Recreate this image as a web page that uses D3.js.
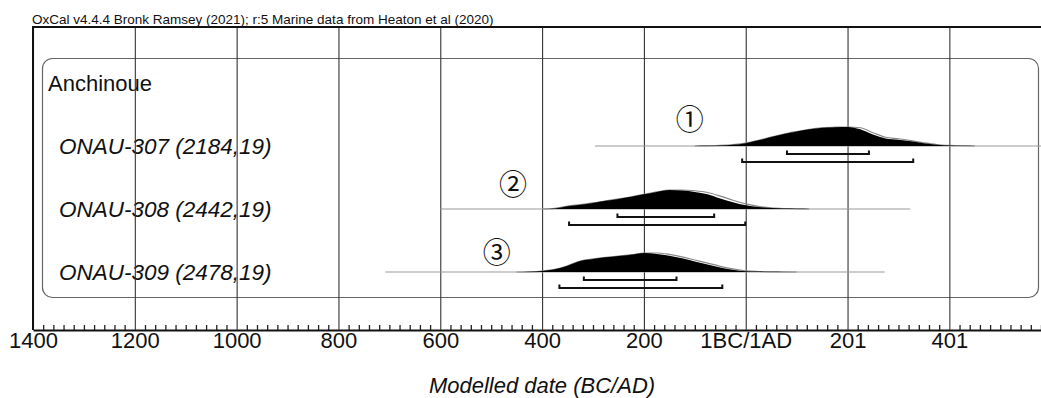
<!DOCTYPE html>
<html lang="en">
<head>
  <meta charset="UTF-8">
  <title>OxCal plot - Anchinoue</title>
  <style>
    html, body {
      margin: 0;
      background-color: #ffffff;
    }
    svg text {
      font-family: "Liberation Sans", Arial, Helvetica, sans-serif;
      fill: #111;
    }
  </style>
</head>
<body>
  <svg id="chart" width="1041" height="398"></svg>

  <script src="https://cdnjs.cloudflare.com/ajax/libs/d3/7.8.5/d3.min.js"></script>
  <script>
    // --- data (years: negative = BC) ---
    const groupName = 'Anchinoue';
    const sampleNames = ['ONAU-307 (2184,19)', 'ONAU-308 (2442,19)', 'ONAU-309 (2478,19)'];
    const markers = ['①', '②', '③'];
    const markerYears = [-110, -457, -489];

    const majorTicks = [-1400, -1200, -1000, -800, -600, -400, -200, 0, 200, 400];

    const years307 = [-100, -75, -50, -25, 0, 25, 50, 75, 100, 125, 150, 175, 200, 225, 250, 275, 300, 325, 350, 375, 400, 425, 450];
    const post307 = [0, 0.01, 0.03, 0.07, 0.15, 0.3, 0.47, 0.63, 0.76, 0.88, 0.96, 0.99, 1.0, 0.88, 0.6, 0.4, 0.33, 0.25, 0.15, 0.07, 0.03, 0.01, 0];
    const prior307 = [0, 0.01, 0.03, 0.07, 0.15, 0.3, 0.47, 0.63, 0.76, 0.88, 0.96, 0.99, 1.0, 0.96, 0.7, 0.46, 0.38, 0.28, 0.17, 0.08, 0.035, 0.012, 0];

    const years308 = [-400, -375, -350, -325, -300, -275, -250, -225, -200, -175, -150, -125, -100, -75, -50, -25, 0, 25, 50, 75, 100, 125];
    const post308 = [0, 0.03, 0.15, 0.23, 0.32, 0.43, 0.53, 0.64, 0.77, 0.9, 1.0, 0.97, 0.9, 0.78, 0.55, 0.36, 0.2, 0.11, 0.05, 0.02, 0.01, 0];
    const prior308 = [0, 0.03, 0.15, 0.23, 0.32, 0.43, 0.53, 0.64, 0.77, 0.9, 1.0, 1.0, 0.96, 0.87, 0.68, 0.46, 0.27, 0.14, 0.06, 0.025, 0.01, 0];

    const years309 = [-450, -425, -400, -375, -350, -325, -300, -275, -250, -225, -200, -175, -150, -125, -100, -75, -50, -25, 0, 25, 50, 75, 100];
    const post309 = [0, 0.01, 0.05, 0.14, 0.33, 0.58, 0.69, 0.77, 0.84, 0.91, 1.0, 0.95, 0.85, 0.72, 0.55, 0.4, 0.24, 0.12, 0.04, 0.02, 0.01, 0.005, 0];
    const prior309 = [0, 0.01, 0.05, 0.14, 0.33, 0.58, 0.69, 0.77, 0.84, 0.91, 1.0, 1.0, 0.93, 0.8, 0.63, 0.47, 0.3, 0.16, 0.06, 0.025, 0.01, 0.005, 0];

    const sampleYears = [years307, years308, years309];
    const posteriors = [post307, post308, post309];
    const priors = [prior307, prior308, prior309];

    const range68 = [[81, 242], [-252, -62], [-318, -136]];
    const range95 = [[-7, 329], [-347, -1], [-366, -46]];
    const lineSpans = [[-296, 580], [-600, 323], [-708, 273]];

    // --- layout ---
    const width = 1041;
    const frameLeft = 33;
    const frameTop = 27;
    const axisY = 330;
    const distHeight = 19;

    const svg = d3.select('#chart');

    const x = d3.scaleLinear()
      .domain([-1400, 580])
      .range([frameLeft, width]);

    const y = d3.scalePoint()
      .domain([groupName].concat(sampleNames))
      .range([83, 272]);

    const h = d3.scaleLinear()
      .domain([0, 1])
      .range([0, distHeight]);

    const fmtYear = v => v < 0 ? String(-v) : (v === 0 ? '1BC/1AD' : String(v + 1));

    // header
    svg.append('text')
      .attr('x', 32)
      .attr('y', 24)
      .style('font-size', '13.5px')
      .text('OxCal v4.4.4 Bronk Ramsey (2021); r:5 Marine data from Heaton et al (2020)');

    // group box
    svg.append('rect')
      .attr('x', 42.5)
      .attr('y', 58.5)
      .attr('width', 996)
      .attr('height', 239)
      .attr('rx', 10)
      .attr('fill', 'none')
      .attr('stroke', '#666')
      .attr('stroke-width', 1.2);

    // labels
    svg.append('text')
      .attr('x', 48)
      .attr('y', y(groupName) + 8)
      .style('font-size', '22px')
      .text(groupName);

    svg.selectAll('text.sample')
      .data(sampleNames)
      .join('text')
      .attr('class', 'sample')
      .attr('x', 59)
      .attr('y', d => y(d) + 8)
      .style('font-size', '22.5px')
      .style('font-style', 'italic')
      .text(d => d);

    // axis: minor ticks
    const minorTicks = d3.range(-1400, 581, 20).filter(v => majorTicks.indexOf(v) < 0);
    svg.append('g')
      .attr('transform', `translate(0,${axisY})`)
      .call(d3.axisBottom(x).tickValues(minorTicks).tickSize(-5).tickFormat(''))
      .call(g => g.select('.domain').remove())
      .call(g => g.selectAll('.tick line').attr('stroke', '#222').attr('stroke-width', 1.3));

    // axis: major ticks as gridlines + labels
    svg.append('g')
      .attr('transform', `translate(0,${axisY})`)
      .call(d3.axisBottom(x).tickValues(majorTicks).tickSize(-(axisY - frameTop)).tickSizeOuter(0).tickPadding(2).tickFormat(fmtYear))
      .call(g => g.select('.domain').attr('stroke', '#111').attr('stroke-width', 2))
      .call(g => g.selectAll('.tick line').attr('stroke', '#333').attr('stroke-width', 1.1))
      .call(g => g.selectAll('.tick text')
        .attr('fill', '#111')
        .style('font-size', '22px')
        .style('font-family', '"Liberation Sans", Arial, sans-serif'));

    // frame
    svg.append('path')
      .attr('d', `M${frameLeft},${axisY}V${frameTop}H${width}`)
      .attr('fill', 'none')
      .attr('stroke', '#111')
      .attr('stroke-width', 2);

    // per-sample baselines
    svg.selectAll('line.span')
      .data(lineSpans)
      .join('line')
      .attr('class', 'span')
      .attr('x1', d => x(d[0]))
      .attr('x2', d => x(d[1]))
      .attr('y1', (d, i) => y(sampleNames[i]))
      .attr('y2', (d, i) => y(sampleNames[i]))
      .attr('stroke', '#999')
      .attr('stroke-width', 1);

    // distributions
    sampleNames.forEach((name, i) => {
      const base = y(name);
      const pts = sampleYears[i].map((yr, j) => ({ yr, post: posteriors[i][j], prior: priors[i][j] }));

      const priorLine = d3.line()
        .x(d => x(d.yr))
        .y(d => base - h(d.prior))
        .curve(d3.curveMonotoneX);

      const postArea = d3.area()
        .x(d => x(d.yr))
        .y0(base)
        .y1(d => base - h(d.post))
        .curve(d3.curveMonotoneX);

      svg.append('path')
        .attr('d', priorLine(pts))
        .attr('fill', 'none')
        .attr('stroke', '#888')
        .attr('stroke-width', 1.2);

      svg.append('path')
        .attr('d', postArea(pts))
        .attr('fill', '#000');
    });

    // range brackets (68.3% and 95.4%)
    const bracket = (r, yy) => `M${x(r[0])},${yy - 3.5}V${yy}H${x(r[1])}V${yy - 3.5}`;
    sampleNames.forEach((name, i) => {
      const base = y(name);
      svg.append('path')
        .attr('d', bracket(range68[i], base + 8))
        .attr('fill', 'none')
        .attr('stroke', '#111')
        .attr('stroke-width', 2);
      svg.append('path')
        .attr('d', bracket(range95[i], base + 16))
        .attr('fill', 'none')
        .attr('stroke', '#111')
        .attr('stroke-width', 2);
    });

    // circled markers
    const markerLift = [26, 24, 19];
    svg.selectAll('text.marker')
      .data(markers)
      .join('text')
      .attr('class', 'marker')
      .attr('x', (d, i) => x(markerYears[i]))
      .attr('y', (d, i) => y(sampleNames[i]) - markerLift[i])
      .attr('text-anchor', 'middle')
      .attr('dominant-baseline', 'central')
      .style('font-size', '28px')
      .style('font-family', '"DejaVu Serif", "Noto Sans CJK JP", serif')
      .text(d => d);

    // axis title
    svg.append('text')
      .attr('x', 542)
      .attr('y', 393)
      .attr('text-anchor', 'middle')
      .style('font-size', '22px')
      .style('font-style', 'italic')
      .text('Modelled date (BC/AD)');
  </script>
</body>
</html>
